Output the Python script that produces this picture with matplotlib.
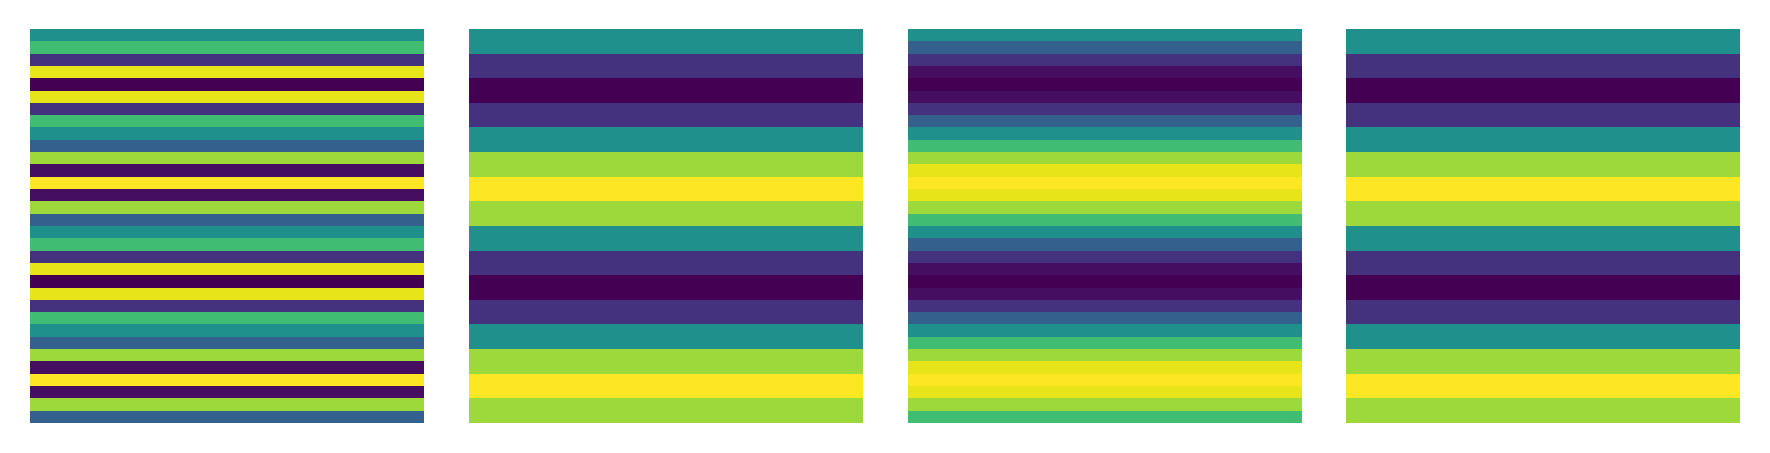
import numpy as np
import matplotlib
matplotlib.use("Agg")
import matplotlib.pyplot as plt

# Stripe values (top to bottom), range -1..1
panel1 = [0.0, 0.383, -0.707, 0.924, -1.0, 0.924, -0.707, 0.383,
          0.0, -0.383, 0.707, -0.924, 1.0, -0.924, 0.707, -0.383,
          0.0, 0.383, -0.707, 0.924, -1.0, 0.924, -0.707, 0.383,
          0.0, -0.383, 0.707, -0.924, 1.0, -0.924, 0.707, -0.383]
panel2 = [0.0, -0.707, -1.0, -0.707, 0.0, 0.707, 1.0, 0.707,
          0.0, -0.707, -1.0, -0.707, 0.0, 0.707, 1.0, 0.707]
panel3 = [0.0, -0.383, -0.707, -0.924, -1.0, -0.924, -0.707, -0.383,
          0.0, 0.383, 0.707, 0.924, 1.0, 0.924, 0.707, 0.383,
          0.0, -0.383, -0.707, -0.924, -1.0, -0.924, -0.707, -0.383,
          0.0, 0.383, 0.707, 0.924, 1.0, 0.924, 0.707, 0.383]
panel4 = [0.0, -0.707, -1.0, -0.707, 0.0, 0.707, 1.0, 0.707,
          0.0, -0.707, -1.0, -0.707, 0.0, 0.707, 1.0, 0.707]

panels = [panel1, panel2, panel3, panel4]

W, H = 1770, 453
fig = plt.figure(figsize=(W / 100, H / 100), dpi=100)
lefts = [30, 469, 908, 1346]
for left, vals in zip(lefts, panels):
    ax = fig.add_axes([left / W, 30 / H, 394 / W, 394 / H])
    ax.imshow(np.array(vals)[:, None], cmap="viridis", vmin=-1, vmax=1,
              aspect="auto", interpolation="nearest")
    ax.axis("off")

fig.savefig("out.png", dpi=100)
